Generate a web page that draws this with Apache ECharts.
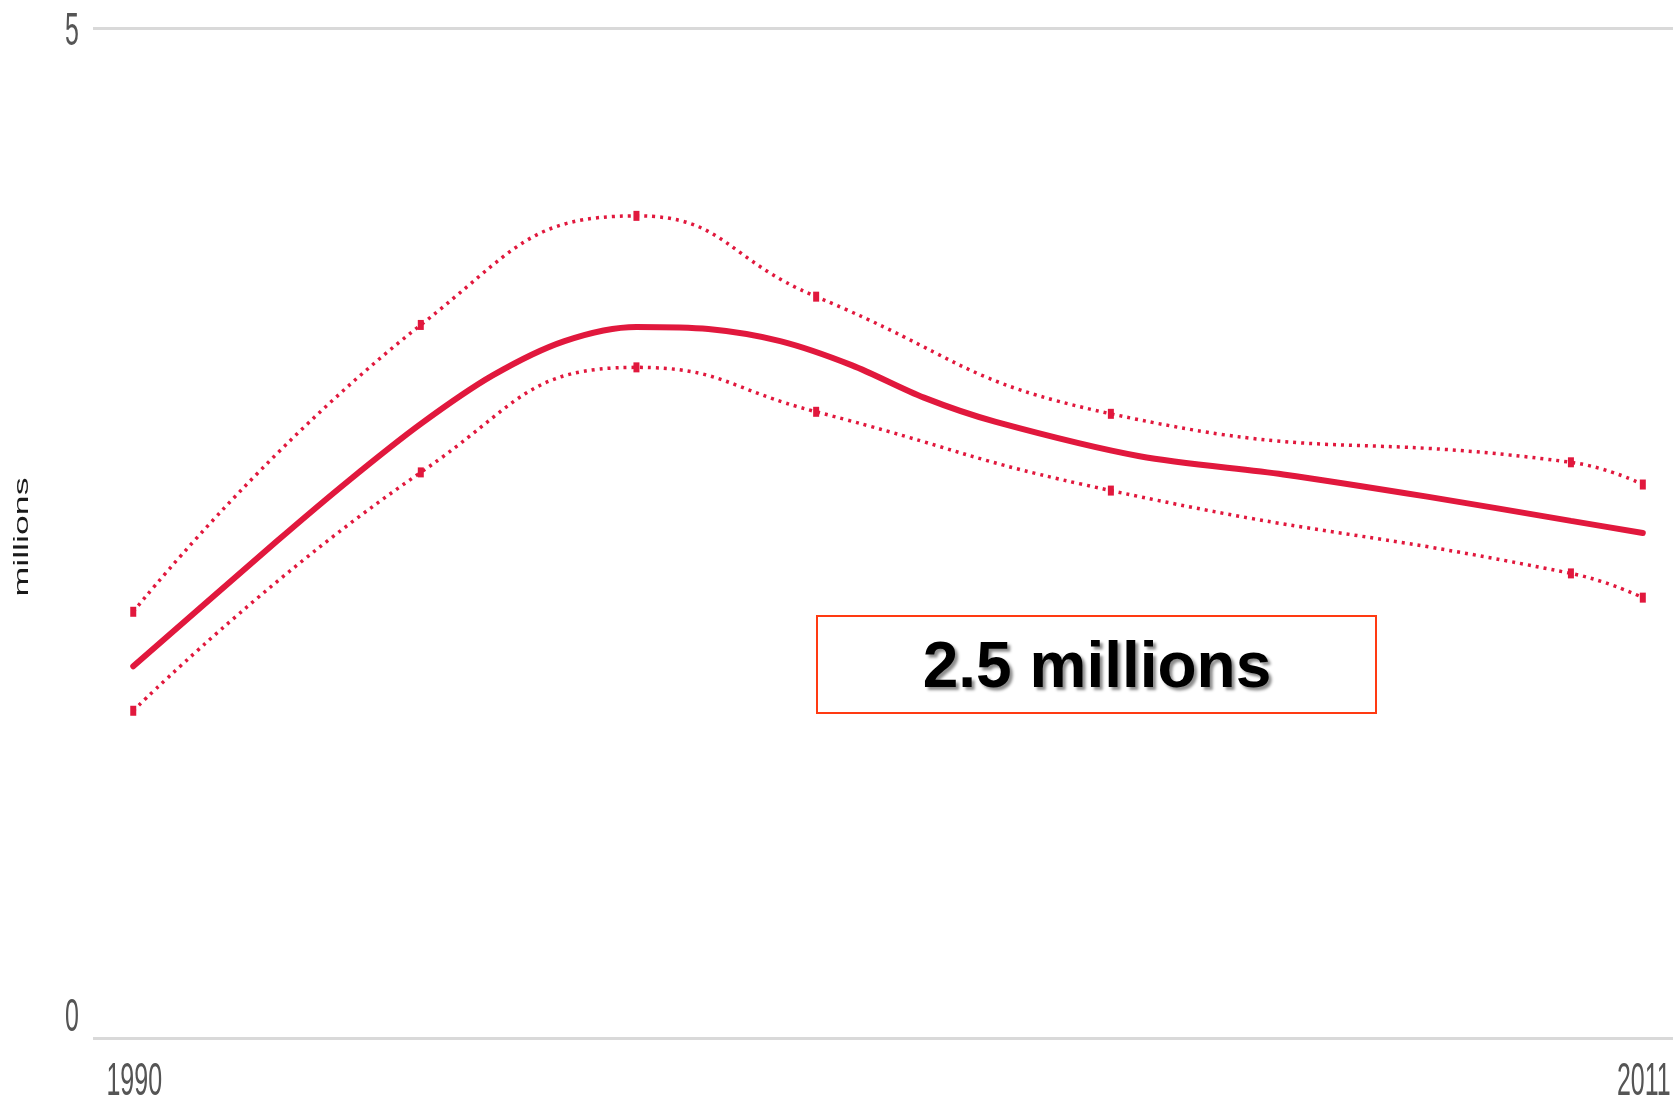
<!DOCTYPE html>
<html>
<head>
<meta charset="utf-8">
<script src="https://cdn.jsdelivr.net/npm/echarts@6/dist/echarts.min.js"></script>
<style>
  html, body { margin: 0; padding: 0; background: #ffffff; }
  #chart { width: 1673px; height: 1103px; }
</style>
</head>
<body>
<div id="chart"></div>
<script>
// Central estimate (millions)
const estimateYears = [1990, 1992, 1993, 1994, 1995, 1996, 1997, 1998, 1999, 2000, 2001, 2002, 2004, 2006, 2008, 2010, 2011];
const estimate      = [1.84, 2.46, 2.76, 3.04, 3.28, 3.45, 3.52, 3.51, 3.45, 3.33, 3.17, 3.05, 2.88, 2.79, 2.68, 2.56, 2.5];

// Uncertainty range (millions)
const boundYears = [1990, 1994, 1997, 1999.5, 2003.6, 2010, 2011];
const upperBound = [2.11, 3.53, 4.07, 3.67, 3.09, 2.85, 2.74];
const lowerBound = [1.62, 2.80, 3.32, 3.10, 2.71, 2.30, 2.18];

// Axis labels
const yTicks = [0, 5];
const xTicks = [1990, 2011];
const yAxisName = 'millions';
const unitWord = 'millions';

const RED = '#e1183d';
const LABEL_FONT = '"Liberation Sans", Arial, sans-serif';

const chart = echarts.init(document.getElementById('chart'));
const pairs = (xs, ys) => xs.map((x, i) => [x, ys[i]]);

const boundStyle = {
  type: 'line',
  smooth: 0.5,
  symbol: 'rect',
  symbolSize: [6, 10],
  showSymbol: true,
  itemStyle: { color: RED },
  lineStyle: { color: RED, width: 3.5, type: [3, 5] },
  z: 2
};

chart.setOption({
  animation: false,
  grid: { left: 93, right: 0, top: 28, bottom: 65 },
  xAxis: {
    type: 'value',
    min: 1989.44,
    max: 2011.42,
    axisLine: { show: false },
    axisTick: { show: false },
    axisLabel: { show: false },
    splitLine: { show: false }
  },
  yAxis: {
    type: 'value',
    min: 0,
    max: 5,
    interval: 5,
    axisLine: { show: false },
    axisTick: { show: false },
    axisLabel: { show: false },
    splitLine: { lineStyle: { color: '#d9d9d9', width: 3 } }
  },
  series: [
    Object.assign({ name: 'Upper bound', data: pairs(boundYears, upperBound) }, boundStyle),
    Object.assign({ name: 'Lower bound', data: pairs(boundYears, lowerBound) }, boundStyle),
    {
      name: 'Estimate',
      type: 'line',
      smooth: 0.3,
      showSymbol: false,
      data: pairs(estimateYears, estimate),
      lineStyle: { color: RED, width: 6, cap: 'round' },
      z: 3
    }
  ]
});

// Tick labels and axis name, placed from the axis scales and drawn tall and narrow
const px = (x, y) => chart.convertToPixel({ gridIndex: 0 }, [x, y]);
const gridLeft = px(1989.44, 0)[0];
const zeroY = px(1990, 0)[1];
const topY = px(1990, 5)[1];

const graphics = [];
yTicks.forEach(v => {
  const p = px(1990, v);
  graphics.push({
    type: 'text',
    x: gridLeft - 14,
    y: p[1] + (v === 0 ? -20 : 4),
    scaleY: 1.84,
    style: { text: String(v), fontSize: 25, fontFamily: LABEL_FONT, fill: '#555555', align: 'right', verticalAlign: 'middle' }
  });
});
xTicks.forEach(v => {
  const p = px(v, 0);
  graphics.push({
    type: 'text',
    x: p[0] + 1,
    y: zeroY + 44,
    scaleY: 1.84,
    style: { text: String(v), fontSize: 25, fontFamily: LABEL_FONT, fill: '#555555', align: 'center', verticalAlign: 'middle' }
  });
});
graphics.push({
  type: 'text',
  x: gridLeft - 71,
  y: (zeroY + topY) / 2 + 4,
  rotation: Math.PI / 2,
  scaleX: 1.7,
  style: { text: yAxisName, fontSize: 21, fontFamily: LABEL_FONT, fill: '#1a1a1a', align: 'center', verticalAlign: 'middle' }
});

// Callout stating the latest estimate
const latest = estimate[estimate.length - 1];
graphics.push({
  type: 'group',
  x: 817,
  y: 616,
  children: [
    {
      type: 'rect',
      shape: { x: 0, y: 0, width: 559, height: 97 },
      style: { fill: '#ffffff', stroke: '#ff3a12', lineWidth: 2 }
    },
    {
      type: 'text',
      x: 280,
      y: 53,
      style: {
        text: latest + ' ' + unitWord,
        fontSize: 64,
        fontWeight: 'bold',
        fontFamily: LABEL_FONT,
        fill: '#000000',
        align: 'center',
        verticalAlign: 'middle',
        textShadowColor: 'rgba(0,0,0,0.45)',
        textShadowOffsetX: 3,
        textShadowOffsetY: 3,
        textShadowBlur: 3
      }
    }
  ]
});

chart.setOption({ graphic: graphics });
</script>
</body>
</html>
